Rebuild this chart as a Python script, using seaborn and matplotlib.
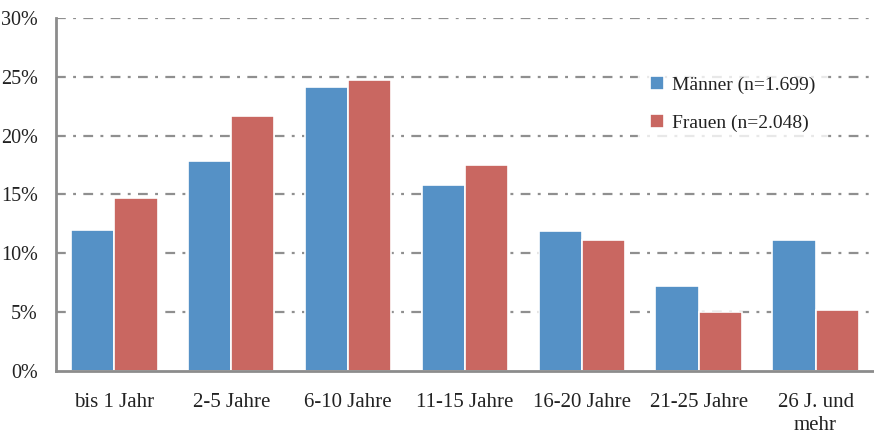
import matplotlib
matplotlib.use("Agg")
import matplotlib.pyplot as plt
import seaborn as sns
import pandas as pd

# Beschäftigungsdauer nach Geschlecht (Anteile in %)
kategorien = ["bis 1 Jahr", "2-5 Jahre", "6-10 Jahre", "11-15 Jahre",
              "16-20 Jahre", "21-25 Jahre", "26 J. und\nmehr"]
maenner = [12.0, 17.8, 24.1, 15.8, 11.9, 7.2, 11.1]
frauen = [14.7, 21.7, 24.7, 17.5, 11.1, 5.0, 5.2]
serien = ["Männer (n=1.699)", "Frauen (n=2.048)"]
farben = ["#5591C6", "#C96761"]
y_ticks = [0, 5, 10, 15, 20, 25, 30]

df = pd.DataFrame({
    "Kategorie": kategorien * 2,
    "Anteil": maenner + frauen,
    "Gruppe": [serien[0]] * len(kategorien) + [serien[1]] * len(kategorien),
})

sns.set_theme(style="white")
plt.rcParams["font.family"] = ["Liberation Serif", "DejaVu Serif"]

fig = plt.figure(figsize=(8.74, 4.36), dpi=100)
ax = fig.add_axes([0.064, 0.149, 0.936, 0.810])

sns.barplot(data=df, x="Kategorie", y="Anteil", hue="Gruppe",
            palette=farben, width=0.74, edgecolor="white", linewidth=1.2,
            saturation=1, ax=ax, zorder=3)

ax.set_ylim(0, 30)
ax.set_xlim(-0.5, len(kategorien) - 0.5)
ax.set_yticks(y_ticks)
ax.set_yticklabels([f"{t}%" for t in y_ticks])
ax.set_xlabel("")
ax.set_ylabel("")

for t in y_ticks[1:]:
    ax.axhline(t, color="#8F8F8F", linewidth=1.6, zorder=1,
               linestyle=(0, (4.4, 3.3, 1.3, 3.3)))

for side in ["top", "right"]:
    ax.spines[side].set_visible(False)
for side in ["left", "bottom"]:
    ax.spines[side].set_color("#8C8C8C")
    ax.spines[side].set_linewidth(2)
    ax.spines[side].set_zorder(4)

ax.tick_params(axis="both", length=0, colors="#222222")
ax.tick_params(axis="y", pad=13, labelsize=14.5)
ax.tick_params(axis="x", pad=16, labelsize=15)
for lbl in ax.get_xticklabels():
    lbl.set_linespacing(1.25)

leg = ax.legend(loc="upper left", bbox_to_anchor=(0.70, 0.895), frameon=True,
                fontsize=14, handlelength=0.7, handleheight=0.7,
                handletextpad=0.45, labelspacing=1.05, borderpad=0.6)
leg.get_frame().set_facecolor("white")
leg.get_frame().set_edgecolor("white")
leg.set_zorder(5)
for txt in leg.get_texts():
    txt.set_color("#222222")

fig.savefig("out.png", dpi=100)
